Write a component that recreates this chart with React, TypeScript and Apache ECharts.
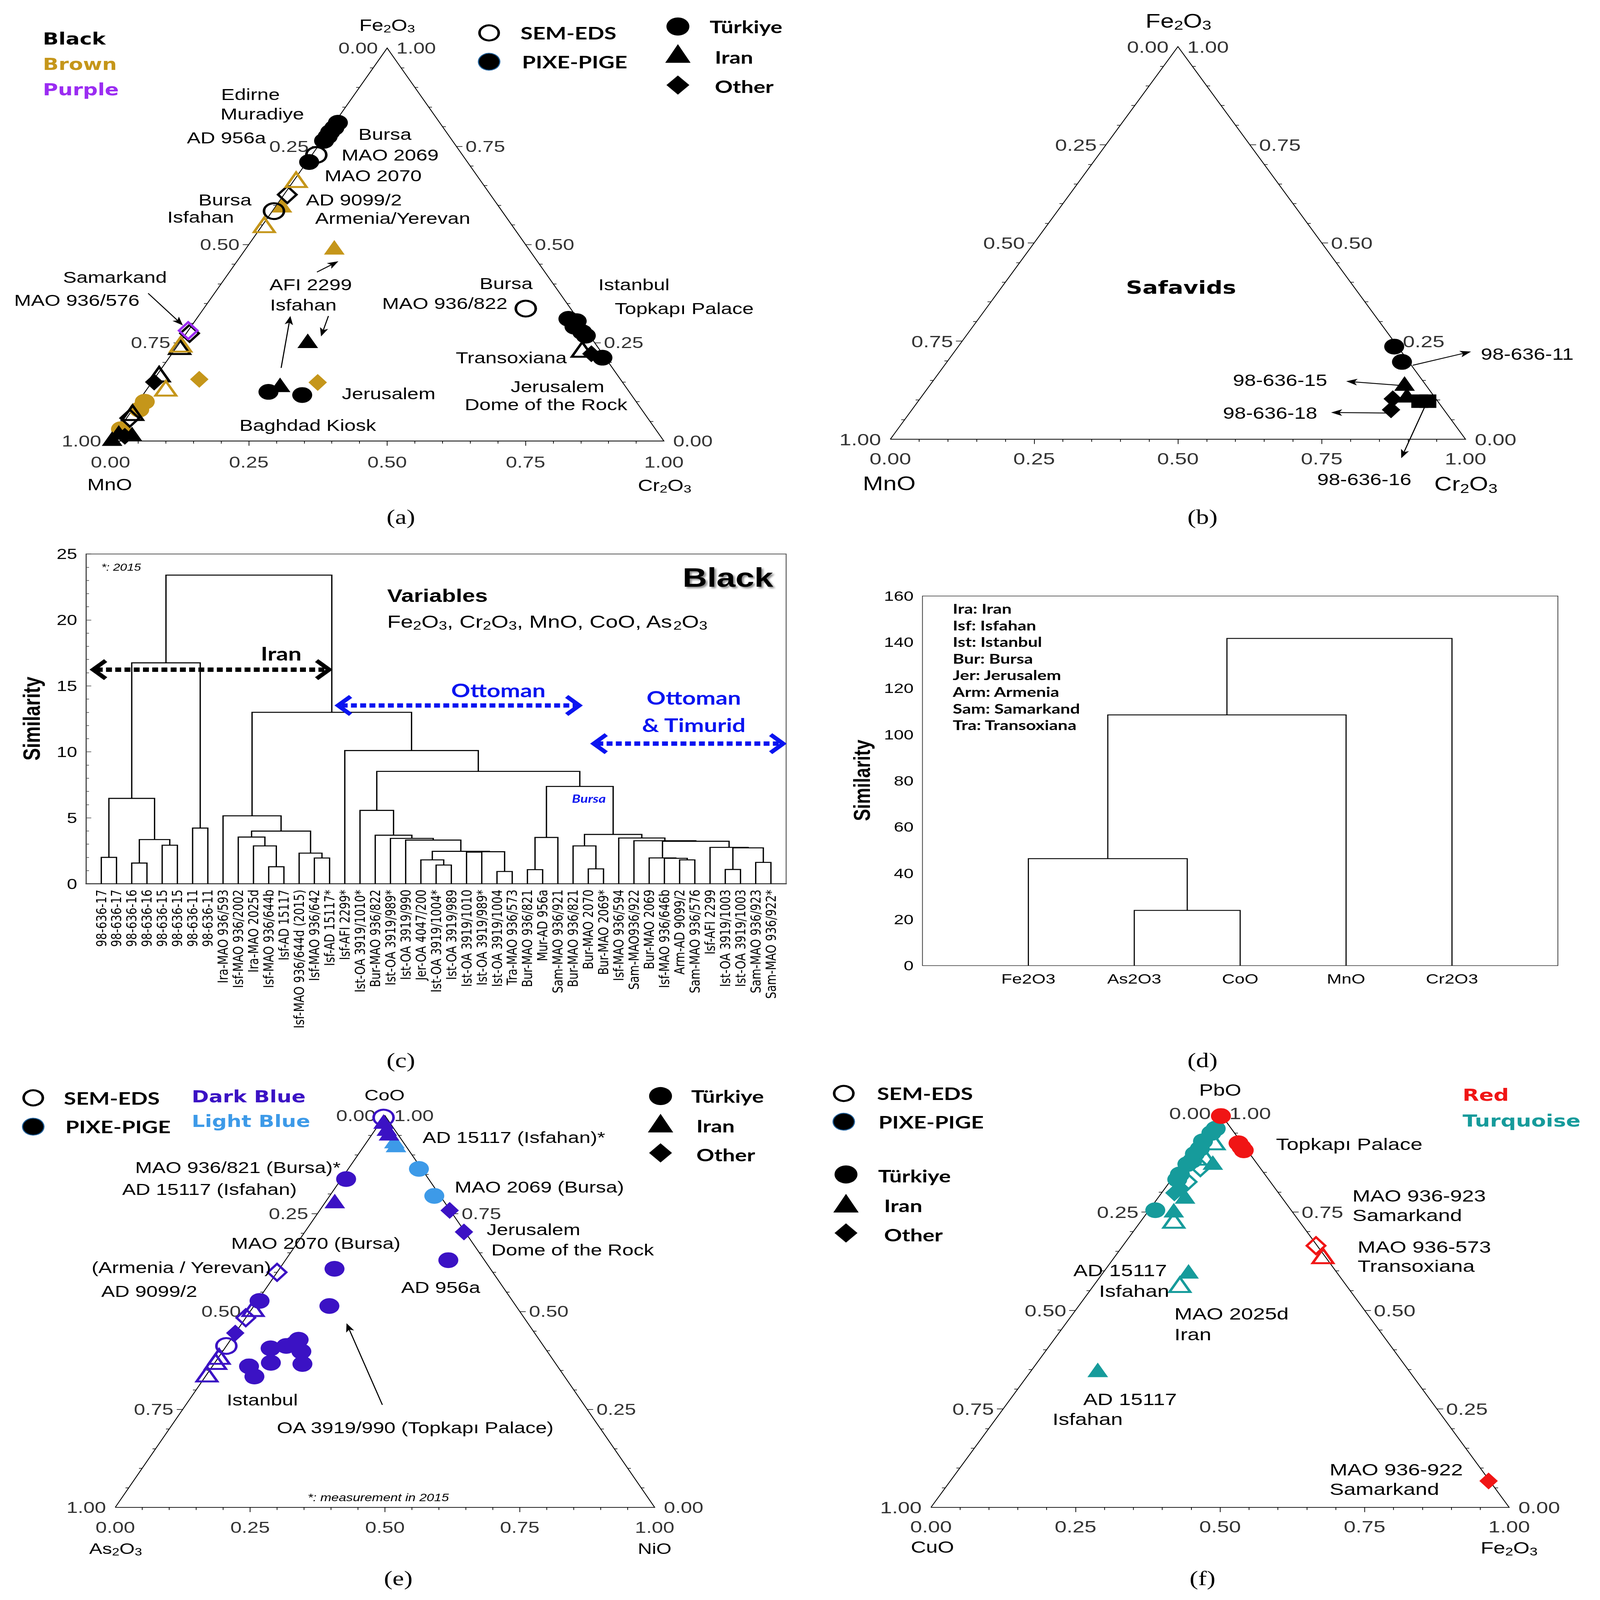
import React, { useEffect, useRef } from "react";
import * as echarts from "echarts";

const PAGE_W = 4331;
const PAGE_H = 5493;

/* ============================ DATA ============================ */

const TERN_TICK_VALUES = [0, 0.25, 0.5, 0.75, 1];

// (a) Black / Brown / Purple — each point = [Cr2O3, Fe2O3] (MnO = remainder)
const A_BLACK_PIXE_CIRCLE = [[0.006, 0.81], [0.006, 0.797], [0.004, 0.786], [0.005, 0.775], [0.004, 0.764], [0.004, 0.71], [0.223, 0.125], [0.288, 0.117], [0.672, 0.311], [0.69, 0.305], [0.693, 0.291], [0.714, 0.277], [0.725, 0.268], [0.783, 0.212]];
const A_BLACK_SEM_CIRCLE = [[0.008, 0.728], [0.003, 0.585], [0.582, 0.337]];
const A_BLACK_PIXE_TRI = [[0.229, 0.255], [0.235, 0.143], [0.004, 0.022], [0.0, 0.006], [0.03, 0.018]];
const A_BLACK_SEM_TRI = [[0.005, 0.24], [0.003, 0.17], [0.004, 0.072], [0.736, 0.233]];
const A_BLACK_PIXE_DIA = [[0.004, 0.15], [0.758, 0.222], [0.02, 0.012]];
const A_BLACK_SEM_DIA = [[0.006, 0.627], [0.006, 0.274], [0.006, 0.058]];
const A_BROWN_PIXE_TRI = [[0.01, 0.6], [0.158, 0.493]];
const A_BROWN_SEM_TRI = [[0.003, 0.665], [0.003, 0.55], [0.004, 0.246], [0.033, 0.134]];
const A_BROWN_PIXE_DIA = [[0.082, 0.157], [0.3, 0.149]];
const A_BROWN_PIXE_CIRCLE = [[0.012, 0.1], [0.012, 0.08], [0.004, 0.03]];
const A_PURPLE_SEM_DIA = [[0.0, 0.281]];

// (b) Safavids — [Cr2O3, Fe2O3]
const B_CIRCLE = [[0.758, 0.236], [0.791, 0.197]];
const B_TRI = [[0.823, 0.142], [0.842, 0.112]];
const B_DIA = [[0.822, 0.103], [0.833, 0.075]];
const B_SQUARE = [[0.872, 0.097], [0.886, 0.097]];

// (c) dendrogram, Black glazes
const LEAVES_C = [
  "98-636-17", "98-636-17", "98-636-16", "98-636-16", "98-636-15", "98-636-15", "98-636-11", "98-636-11",
  "Ira-MAO 936/593", "Isf-MAO 936/2002", "Ira-MAO 2025d", "Isf-MAO 936/644b", "Isf-AD 15117",
  "Isf-MAO 936/644d (2015)", "Isf-MAO 936/642", "Isf-AD 15117*", "Isf-AFI 2299*", "Ist-OA 3919/1010*",
  "Bur-MAO 936/822", "Ist-OA 3919/989*", "Ist-OA 3919/990", "Jer-OA 4047/200", "Ist-OA 3919/1004*",
  "Ist-OA 3919/989", "Ist-OA 3919/1010", "Ist-OA 3919/989*", "Ist-OA 3919/1004", "Tra-MAO 936/573",
  "Bur-MAO 936/821", "Mur-AD 956a", "Sam-MAO 936/921", "Bur-MAO 936/821", "Bur-MAO 2070", "Bur-MAO 2069*",
  "Isf-MAO 936/594", "Sam-MAO936/922", "Bur-MAO 2069", "Isf-MAO 936/646b", "Arm-AD 9099/2",
  "Sam-MAO 936/576", "Isf-AFI 2299", "Ist-OA 3919/1003", "Ist-OA 3919/1003", "Sam-MAO 936/923", "Sam-MAO 936/922*",
];
// [childA, childB, similarity]; ids 0..44 are leaves, 45+k is merge k
const MERGES_C = [
  [0, 1, 2.0], [2, 3, 1.57], [4, 5, 2.92], [46, 47, 3.35], [45, 48, 6.47], [6, 7, 4.22], [49, 50, 16.75],
  [11, 12, 1.29], [10, 52, 2.87], [9, 53, 3.54], [14, 15, 1.95], [13, 55, 2.32], [54, 56, 3.99], [8, 57, 5.15],
  [22, 23, 1.42], [21, 59, 1.81], [24, 25, 2.4], [26, 27, 0.93], [61, 62, 2.43], [60, 63, 2.46], [20, 64, 3.31],
  [19, 65, 3.44], [18, 66, 3.68], [17, 67, 5.56],
  [28, 29, 1.07], [69, 30, 3.51], [32, 33, 1.13], [31, 71, 2.87], [38, 39, 1.81], [37, 73, 1.93], [36, 74, 1.96],
  [41, 42, 1.08], [43, 44, 1.62], [76, 77, 2.72], [40, 78, 2.76], [75, 79, 3.22], [35, 80, 3.26], [34, 81, 3.47],
  [72, 82, 3.74], [70, 83, 7.38],
  [68, 84, 8.52], [16, 85, 10.1], [58, 86, 13.0], [51, 87, 23.4],
];
const Y_AXIS_C = { min: 0, max: 25, step: 5 };

// (d) dendrogram of variables
const VARS_D = ["Fe2O3", "As2O3", "CoO", "MnO", "Cr2O3"];
const MERGES_D = [[1, 2, 23.9], [0, 5, 46.3], [6, 3, 108.5], [7, 4, 141.6]];
const Y_AXIS_D = { min: 0, max: 160, step: 20 };
const ABBREV_D = ["Ira: Iran", "Isf: Isfahan", "Ist: Istanbul", "Bur: Bursa", "Jer: Jerusalem", "Arm: Armenia", "Sam: Samarkand", "Tra: Transoxiana"];

// (e) Dark / Light blue — [NiO, CoO]
const E_DB_SEM_CIRCLE = [[0.0, 0.995], [0.0, 0.412]];
const E_DB_PIXE_TRI = [[0.005, 0.985], [0.02, 0.967], [0.03, 0.955], [0.016, 0.782]];
const E_LB_PIXE_TRI = [[0.05, 0.935], [0.058, 0.925]];
const E_LB_PIXE_CIRCLE = [[0.131, 0.864], [0.194, 0.795]];
const E_DB_PIXE_DIA = [[0.241, 0.758], [0.295, 0.703], [0.0, 0.445]];
const E_DB_PIXE_CIRCLE = [[0.302, 0.631], [0.009, 0.838], [0.102, 0.609], [0.14, 0.514], [0.004, 0.527], [0.126, 0.428], [0.085, 0.406], [0.111, 0.412], [0.146, 0.398], [0.104, 0.369], [0.164, 0.366], [0.068, 0.36], [0.091, 0.334], [0.123, 0.417]];
const E_DB_SEM_DIA = [[0.0, 0.6], [0.0, 0.484]];
const E_DB_SEM_TRI = [[0.002, 0.507], [0.0, 0.385], [0.0, 0.372], [0.0, 0.34]];

// (f) Red / Turquoise — [Fe2O3, PbO]
const F_RED_PIXE_CIRCLE = [[0.005, 0.993], [0.07, 0.924], [0.08, 0.914], [0.088, 0.906]];
const F_RED_SEM_DIA = [[0.334, 0.664]];
const F_RED_SEM_TRI = [[0.359, 0.638]];
const F_RED_PIXE_DIA = [[0.931, 0.067]];
const F_TEAL_PIXE_CIRCLE = [[0.012, 0.961], [0.01, 0.95], [0.006, 0.929], [0.01, 0.91], [0.008, 0.897], [0.012, 0.88], [0.008, 0.871], [0.008, 0.845], [0.01, 0.832], [0.011, 0.754]];
const F_TEAL_SEM_TRI = [[0.026, 0.927], [0.03, 0.888], [0.056, 0.728], [0.148, 0.565]];
const F_TEAL_PIXE_TRI = [[0.05, 0.875], [0.045, 0.789], [0.043, 0.754], [0.146, 0.599], [0.114, 0.349]];
const F_TEAL_SEM_DIA = [[0.035, 0.862], [0.03, 0.826]];
const F_TEAL_PIXE_DIA = [[0.026, 0.81], [0.022, 0.798]];

/* ============================ STYLE ============================ */

const FONT = "'Liberation Sans', Arial, Helvetica, sans-serif";
const LATO = "Lato, 'Liberation Sans', sans-serif";
const DEJAVU = "'DejaVu Sans', sans-serif";
const SERIF = "'Liberation Serif', 'Times New Roman', serif";

const COL = {
  black: "#000000",
  brown: "#c5961a",
  purple: "#9b2cf2",
  dblue: "#3b12c4",
  lblue: "#3d9ae8",
  red: "#f01515",
  teal: "#169b9b",
  blue: "#0a14f0",
};

const SZ: any = { circle: 54, triangle: [56, 50], diamond: [50, 58], rect: 46 };

/* ============================ HELPERS ============================ */

function marks(g: number, data: number[][], symbol: string, color: string, filled: boolean) {
  return {
    type: "scatter",
    xAxisIndex: g,
    yAxisIndex: g,
    clip: false,
    silent: true,
    symbol,
    symbolSize: SZ[symbol],
    data: data.map(([r, t]) => [r + t / 2, t]),
    itemStyle: filled
      ? { color, opacity: 1 }
      : { color: "rgba(255,255,255,0)", borderColor: color, borderWidth: 7, opacity: 1 },
    z: filled ? 6 : 7,
  };
}

function ternSeries(g: number, tickFont: number, dist: number, bottomDist: number) {
  const ticks: any[] = [];
  for (let k = 1; k < 20; k++) {
    const v = k / 20;
    const L = k % 5 === 0 ? 0.011 : 0.006;
    ticks.push({ coords: [[v, 0], [v, -L * 1.1]] });
    ticks.push({ coords: [[v / 2, v], [v / 2 - L, v]] });
    ticks.push({ coords: [[1 - v / 2, v], [1 - v / 2 + L, v]] });
  }
  const lab = (data: any[], position: string, distance: number) => ({
    type: "scatter",
    xAxisIndex: g,
    yAxisIndex: g,
    data,
    symbolSize: 2,
    clip: false,
    silent: true,
    itemStyle: { color: "rgba(0,0,0,0)" },
    label: { show: true, position, distance, formatter: "{b}", fontSize: tickFont, fontFamily: FONT, color: "#000" },
    z: 4,
  });
  const fmt = (v: number) => v.toFixed(2);
  return [
    {
      type: "lines", coordinateSystem: "cartesian2d", xAxisIndex: g, yAxisIndex: g, polyline: true,
      clip: false, silent: true, data: [{ coords: [[0, 0], [1, 0], [0.5, 1], [0, 0]] }],
      lineStyle: { color: "#000", width: 2.5, opacity: 1 }, z: 2,
    },
    {
      type: "lines", coordinateSystem: "cartesian2d", xAxisIndex: g, yAxisIndex: g,
      clip: false, silent: true, data: ticks, lineStyle: { color: "#000", width: 2, opacity: 1 }, z: 2,
    },
    lab(TERN_TICK_VALUES.map((v) => ({ name: fmt(v), value: [(1 - v) / 2, 1 - v] })), "left", dist),
    lab(TERN_TICK_VALUES.map((v) => ({ name: fmt(v), value: [1 - v / 2, v] })), "right", dist),
    lab(TERN_TICK_VALUES.map((v) => ({ name: fmt(v), value: [v, 0] })), "bottom", bottomDist),
  ];
}

function dendroLines(nLeaves: number, merges: number[][]) {
  const pos: number[] = [];
  const hgt: number[] = [];
  for (let i = 0; i < nLeaves; i++) {
    pos.push(i + 1);
    hgt.push(0);
  }
  return merges.map(([a, b, h]) => {
    const seg = { coords: [[pos[a], hgt[a]], [pos[a], h], [pos[b], h], [pos[b], hgt[b]]] };
    pos.push((pos[a] + pos[b]) / 2);
    hgt.push(h);
    return seg;
  });
}

function T(text: string, x: number, y: number, size: number, o: any = {}) {
  const style: any = {
    text,
    fontSize: size,
    fontFamily: o.family || FONT,
    fontWeight: o.weight || "normal",
    fontStyle: o.italic ? "italic" : "normal",
    fill: o.color || "#000",
    align: o.align || "center",
    verticalAlign: "middle",
  };
  if (o.shadow) {
    style.textShadowColor = "rgba(0,0,0,0.45)";
    style.textShadowBlur = 6;
    style.textShadowOffsetX = 5;
    style.textShadowOffsetY = 5;
  }
  return { type: "text", x, y, rotation: o.rot || 0, silent: true, z: 20, style };
}

function chem(label: string, x: number, y: number, size: number, align = "center") {
  const parts = label.split(/(\d)/);
  const text = parts.map((p, i) => (i % 2 ? `{s|${p}}` : p ? `{n|${p}}` : "")).join("");
  return {
    type: "text", x, y, silent: true, z: 20,
    style: {
      text, align, verticalAlign: "middle",
      rich: {
        n: { fontSize: size, fontFamily: FONT, fill: "#000" },
        s: { fontSize: Math.round(size * 0.68), fontFamily: FONT, fill: "#000", padding: [Math.round(size * 0.42), 0, 0, 0] },
      },
    },
  };
}

function ARROW(x1: number, y1: number, x2: number, y2: number, color = "#000", w = 3, head = 30) {
  const a = Math.atan2(y2 - y1, x2 - x1);
  const c = Math.cos(a);
  const s = Math.sin(a);
  const bx = x2 - head * c;
  const by = y2 - head * s;
  const hw = head * 0.38;
  return [
    { type: "line", silent: true, z: 20, shape: { x1, y1, x2: bx + head * 0.3 * c, y2: by + head * 0.3 * s }, style: { stroke: color, lineWidth: w } },
    {
      type: "polygon", silent: true, z: 20,
      shape: { points: [[x2, y2], [bx - s * hw, by + c * hw], [bx + head * 0.25 * c, by + head * 0.25 * s], [bx + s * hw, by - c * hw]] },
      style: { fill: color },
    },
  ];
}

function DOTARROW(x1: number, x2: number, y: number, color: string) {
  const hw = 31;
  const hl = 40;
  return [
    { type: "line", silent: true, z: 20, shape: { x1: x1 + 16, y1: y, x2: x2 - 16, y2: y }, style: { stroke: color, lineWidth: 15, lineDash: [16, 9] } },
    { type: "polyline", silent: true, z: 20, shape: { points: [[x1 + hl, y - hw], [x1 + 6, y], [x1 + hl, y + hw]] }, style: { stroke: color, lineWidth: 13, fill: "none" } },
    { type: "polyline", silent: true, z: 20, shape: { points: [[x2 - hl, y - hw], [x2 - 6, y], [x2 - hl, y + hw]] }, style: { stroke: color, lineWidth: 13, fill: "none" } },
  ];
}

function gCircle(cx: number, cy: number, r: number, fill: string, stroke?: string, lw = 0) {
  const style: any = { fill };
  if (stroke) {
    style.stroke = stroke;
    style.lineWidth = lw;
  }
  return { type: "circle", silent: true, z: 20, shape: { cx, cy, r }, style };
}
function gTri(cx: number, cy: number, s: number, fill: string) {
  return { type: "polygon", silent: true, z: 20, shape: { points: [[cx, cy - s * 0.52], [cx + s * 0.52, cy + s * 0.45], [cx - s * 0.52, cy + s * 0.45]] }, style: { fill } };
}
function gDia(cx: number, cy: number, s: number, fill: string) {
  return { type: "polygon", silent: true, z: 20, shape: { points: [[cx, cy - s / 2], [cx + s * 0.47, cy], [cx, cy + s / 2], [cx - s * 0.47, cy]] }, style: { fill } };
}

function shapeLegend(cx: number, textX: number, ys: number[], textYs: number[], size: number) {
  return [
    gCircle(cx, ys[0], size * 0.47, "#000"),
    gTri(cx, ys[1], size, "#000"),
    gDia(cx, ys[2], size, "#000"),
    T("Türkiye", textX, textYs[0], 60, { family: LATO, weight: "bold", align: "left" }),
    T("Iran", textX + 14, textYs[1], 60, { family: LATO, weight: "bold", align: "left" }),
    T("Other", textX + 14, textYs[2], 60, { family: LATO, weight: "bold", align: "left" }),
  ];
}

function methodLegend(cx: number, textX: number, y1: number, y2: number) {
  return [
    gCircle(cx, y1, 26, "#fff", "#000", 7),
    gCircle(cx, y2, 29, "#000", "#1f5f99", 3),
    T("SEM-EDS", textX, y1, 60, { family: LATO, weight: "bold", align: "left" }),
    T("PIXE-PIGE", textX + 4, y2, 60, { family: LATO, weight: "bold", align: "left" }),
  ];
}

/* ============================ OPTION ============================ */

function buildOption() {
  const grids = [
    { left: 299, top: 165, width: 1498, height: 1349 }, // a
    { left: 2410, top: 160, width: 1557, height: 1348 }, // b
    { left: 233, top: 1902, width: 1895, height: 1132, show: true, borderColor: "#555", borderWidth: 2.5 }, // c
    { left: 2497, top: 2046, width: 1720, height: 1269, show: true, borderColor: "#333", borderWidth: 2 }, // d
    { left: 312, top: 3830, width: 1460, height: 1345 }, // e
    { left: 2520, top: 3822, width: 1565, height: 1353 }, // f
  ];

  const hiddenX = (g: number) => ({ gridIndex: g, type: "value", min: 0, max: 1, show: false });
  const hiddenY = (g: number) => ({ gridIndex: g, type: "value", min: 0, max: 1, show: false });

  const xAxis: any[] = [
    hiddenX(0),
    hiddenX(1),
    {
      gridIndex: 2, type: "value", min: 0, max: LEAVES_C.length + 1, interval: 1,
      axisLine: { show: true, lineStyle: { color: "#444", width: 4 } },
      axisTick: { show: false }, splitLine: { show: false },
      axisLabel: {
        rotate: 90, margin: 20, fontSize: 38, fontFamily: DEJAVU, color: "#000",
        showMinLabel: true, showMaxLabel: true,
        formatter: (v: number) => LEAVES_C[Math.round(v) - 1] || "",
      },
    },
    {
      gridIndex: 3, type: "value", min: 0, max: VARS_D.length + 1, interval: 1,
      axisLine: { show: false }, axisTick: { show: false }, splitLine: { show: false },
      axisLabel: { margin: 22, fontSize: 48, fontFamily: FONT, color: "#000", formatter: (v: number) => VARS_D[Math.round(v) - 1] || "" },
    },
    hiddenX(4),
    hiddenX(5),
  ];
  const yAxis: any[] = [
    hiddenY(0),
    hiddenY(1),
    {
      gridIndex: 2, type: "value", min: Y_AXIS_C.min, max: Y_AXIS_C.max, interval: Y_AXIS_C.step,
      axisLine: { show: true, lineStyle: { color: "#444", width: 2.5 } },
      axisTick: { show: true, inside: true, length: 14, lineStyle: { color: "#444", width: 2 } },
      minorTick: { show: true, splitNumber: 5, length: 8, lineStyle: { color: "#444", width: 2 } },
      splitLine: { show: false },
      axisLabel: { fontSize: 50, margin: 24, color: "#000", fontFamily: FONT },
    },
    {
      gridIndex: 3, type: "value", min: Y_AXIS_D.min, max: Y_AXIS_D.max, interval: Y_AXIS_D.step,
      axisLine: { show: false }, axisTick: { show: false }, splitLine: { show: false },
      axisLabel: { fontSize: 48, margin: 24, color: "#000", fontFamily: FONT },
    },
    hiddenY(4),
    hiddenY(5),
  ];

  const series: any[] = [];
  // (a)
  series.push(...ternSeries(0, 55, 24, 44));
  series.push(
    marks(0, A_BROWN_PIXE_CIRCLE, "circle", COL.brown, true),
    marks(0, A_BLACK_PIXE_CIRCLE, "circle", COL.black, true),
    marks(0, A_BLACK_PIXE_TRI, "triangle", COL.black, true),
    marks(0, A_BLACK_PIXE_DIA, "diamond", COL.black, true),
    marks(0, A_BROWN_PIXE_TRI, "triangle", COL.brown, true),
    marks(0, A_BROWN_PIXE_DIA, "diamond", COL.brown, true),
    marks(0, A_BLACK_SEM_CIRCLE, "circle", COL.black, false),
    marks(0, A_BLACK_SEM_TRI, "triangle", COL.black, false),
    marks(0, A_BLACK_SEM_DIA, "diamond", COL.black, false),
    marks(0, A_BROWN_SEM_TRI, "triangle", COL.brown, false),
    marks(0, A_PURPLE_SEM_DIA, "diamond", COL.purple, false),
  );
  // (b)
  series.push(...ternSeries(1, 58, 24, 36));
  series.push(
    marks(1, B_CIRCLE, "circle", COL.black, true),
    marks(1, B_TRI, "triangle", COL.black, true),
    marks(1, B_DIA, "diamond", COL.black, true),
    marks(1, B_SQUARE, "rect", COL.black, true),
  );
  // (c)
  series.push({
    type: "lines", coordinateSystem: "cartesian2d", xAxisIndex: 2, yAxisIndex: 2, polyline: true,
    clip: false, silent: true, data: dendroLines(LEAVES_C.length, MERGES_C),
    lineStyle: { color: "#000", width: 3.5, opacity: 1 }, z: 4,
  });
  // (d)
  series.push({
    type: "lines", coordinateSystem: "cartesian2d", xAxisIndex: 3, yAxisIndex: 3, polyline: true,
    clip: false, silent: true, data: dendroLines(VARS_D.length, MERGES_D),
    lineStyle: { color: "#000", width: 3, opacity: 1 }, z: 4,
  });
  // (e)
  series.push(...ternSeries(4, 55, 24, 40));
  series.push(
    marks(4, E_LB_PIXE_CIRCLE, "circle", COL.lblue, true),
    marks(4, E_LB_PIXE_TRI, "triangle", COL.lblue, true),
    marks(4, E_DB_PIXE_CIRCLE, "circle", COL.dblue, true),
    marks(4, E_DB_PIXE_TRI, "triangle", COL.dblue, true),
    marks(4, E_DB_PIXE_DIA, "diamond", COL.dblue, true),
    marks(4, E_DB_SEM_CIRCLE, "circle", COL.dblue, false),
    marks(4, E_DB_SEM_DIA, "diamond", COL.dblue, false),
    marks(4, E_DB_SEM_TRI, "triangle", COL.dblue, false),
  );
  // (f)
  series.push(...ternSeries(5, 58, 24, 36));
  series.push(
    marks(5, F_TEAL_PIXE_CIRCLE, "circle", COL.teal, true),
    marks(5, F_TEAL_PIXE_TRI, "triangle", COL.teal, true),
    marks(5, F_TEAL_PIXE_DIA, "diamond", COL.teal, true),
    marks(5, F_TEAL_SEM_TRI, "triangle", COL.teal, false),
    marks(5, F_TEAL_SEM_DIA, "diamond", COL.teal, false),
    marks(5, F_RED_PIXE_CIRCLE, "circle", COL.red, true),
    marks(5, F_RED_PIXE_DIA, "diamond", COL.red, true),
    marks(5, F_RED_SEM_DIA, "diamond", COL.red, false),
    marks(5, F_RED_SEM_TRI, "triangle", COL.red, false),
  );

  const G: any[] = [];

  /* ---- (a) ---- */
  G.push(chem("Fe2O3", 1048, 87, 56), chem("MnO", 297, 1663, 56), chem("Cr2O3", 1799, 1666, 56));
  G.push(
    T("Black", 116, 133, 56, { family: DEJAVU, weight: "bold", align: "left" }),
    T("Brown", 116, 221, 56, { family: DEJAVU, weight: "bold", align: "left", color: COL.brown }),
    T("Purple", 116, 308, 56, { family: DEJAVU, weight: "bold", align: "left", color: COL.purple }),
  );
  G.push(...methodLegend(1324, 1409, 113, 212));
  G.push(...shapeLegend(1835, 1921, [91, 186, 292], [91, 196, 296], 66));
  const aTexts: [string, number, number][] = [
    ["Edirne", 678, 325], ["Muradiye", 710, 392], ["AD 956a", 613, 474], ["Bursa", 1042, 461],
    ["MAO 2069", 1056, 532], ["MAO 2070", 1010, 604], ["Bursa", 609, 687], ["Isfahan", 543, 745],
    ["AD 9099/2", 958, 686], ["Armenia/Yerevan", 1063, 750], ["Samarkand", 311, 952], ["MAO 936/576", 208, 1031],
    ["AFI 2299", 841, 978], ["Isfahan", 821, 1047], ["Bursa", 1370, 973], ["MAO 936/822", 1204, 1042],
    ["Istanbul", 1716, 978], ["Topkapı Palace", 1852, 1059], ["Transoxiana", 1384, 1228], ["Jerusalem", 1052, 1352],
    ["Jerusalem", 1509, 1327], ["Dome of the Rock", 1478, 1389], ["Baghdad Kiosk", 833, 1460],
  ];
  aTexts.forEach(([s, x, y]) => G.push(T(s, x, y, 55)));
  G.push(...ARROW(401, 1007, 495, 1117), ...ARROW(858, 934, 916, 897), ...ARROW(761, 1263, 786, 1085), ...ARROW(889, 1085, 869, 1155));
  G.push(T("(a)", 1085, 1775, 70, { family: SERIF }));

  /* ---- (b) ---- */
  G.push(chem("Fe2O3", 3190, 72, 66), chem("MnO", 2407, 1660, 66), chem("Cr2O3", 3968, 1662, 66));
  G.push(T("Safavids", 3197, 987, 62, { family: DEJAVU, weight: "bold" }));
  G.push(
    T("98-636-11", 4134, 1216, 56), T("98-636-15", 3465, 1306, 56),
    T("98-636-18", 3438, 1418, 56), T("98-636-16", 3693, 1646, 56),
  );
  G.push(...ARROW(3824, 1254, 3982, 1207), ...ARROW(3789, 1323, 3644, 1309), ...ARROW(3755, 1418, 3603, 1416), ...ARROW(3858, 1393, 3793, 1573));
  G.push(T("(b)", 3255, 1775, 70, { family: SERIF }));

  /* ---- (c) ---- */
  G.push(T("*: 2015", 274, 1947, 34, { italic: true, align: "left" }));
  G.push(T("Black", 2093, 1982, 92, { weight: "bold", align: "right", shadow: true }));
  G.push(T("Variables", 1048, 2045, 62, { weight: "bold", align: "left" }));
  G.push(chem("Fe2O3, Cr2O3, MnO, CoO, As2O3", 1048, 2134, 60, "left"));
  G.push(T("Iran", 761, 2243, 64, { family: LATO, weight: "bold" }));
  G.push(...DOTARROW(246, 897, 2299, "#000"));
  G.push(T("Ottoman", 1349, 2369, 64, { family: LATO, weight: "bold", color: COL.blue }));
  G.push(...DOTARROW(909, 1574, 2422, COL.blue));
  G.push(T("Ottoman", 1878, 2394, 64, { family: LATO, weight: "bold", color: COL.blue }));
  G.push(T("& Timurid", 1878, 2488, 64, { family: LATO, weight: "bold", color: COL.blue }));
  G.push(...DOTARROW(1601, 2126, 2553, COL.blue));
  G.push(T("Bursa", 1594, 2741, 38, { family: LATO, weight: "bold", italic: true, color: COL.blue }));
  G.push(T("Similarity", 86, 2467, 64, { weight: "bold", rot: Math.PI / 2 }));
  G.push(T("(c)", 1085, 3640, 70, { family: SERIF }));

  /* ---- (d) ---- */
  ABBREV_D.forEach((s, i) => G.push(T(s, 2579, 2089 + i * 57.2, 47, { family: LATO, weight: "bold", align: "left" })));
  G.push(T("Similarity", 2333, 2679, 62, { weight: "bold", rot: Math.PI / 2 }));
  G.push(T("(d)", 3255, 3640, 70, { family: SERIF }));

  /* ---- (e) ---- */
  G.push(chem("CoO", 1041, 3759, 53), chem("As2O3", 313, 5316, 53), chem("NiO", 1772, 5316, 53));
  G.push(...methodLegend(90, 173, 3769, 3868));
  G.push(
    T("Dark Blue", 519, 3765, 56, { family: DEJAVU, weight: "bold", align: "left", color: COL.dblue }),
    T("Light Blue", 519, 3849, 56, { family: DEJAVU, weight: "bold", align: "left", color: COL.lblue }),
  );
  G.push(...shapeLegend(1788, 1871, [3763, 3858, 3958], [3763, 3865, 3964], 66));
  const eTexts: [string, number, number][] = [
    ["AD 15117 (Isfahan)*", 1391, 3905], ["MAO 936/821 (Bursa)*", 644, 4008], ["AD 15117 (Isfahan)", 567, 4083],
    ["MAO 2069 (Bursa)", 1460, 4075], ["Jerusalem", 1444, 4221], ["Dome of the Rock", 1550, 4291],
    ["MAO 2070 (Bursa)", 855, 4268], ["(Armenia / Yerevan)", 491, 4352], ["AD 9099/2", 404, 4434],
    ["AD 956a", 1193, 4420], ["Istanbul", 710, 4806], ["OA 3919/990 (Topkapı Palace)", 1124, 4901],
  ];
  eTexts.forEach(([s, x, y]) => G.push(T(s, x, y, 55)));
  G.push(T("*: measurement in 2015", 1024, 5141, 36, { italic: true }));
  G.push(...ARROW(1035, 4823, 938, 4543));
  G.push(T("(e)", 1078, 5418, 70, { family: SERIF }));

  /* ---- (f) ---- */
  G.push(chem("PbO", 3303, 3742, 57), chem("CuO", 2524, 5311, 57), chem("Fe2O3", 4085, 5314, 57));
  G.push(...methodLegend(2284, 2374, 3754, 3851));
  G.push(
    gCircle(2290, 4032, 31, "#000"), gTri(2290, 4133, 66, "#000"), gDia(2290, 4233, 66, "#000"),
    T("Türkiye", 2377, 4036, 60, { family: LATO, weight: "bold", align: "left" }),
    T("Iran", 2393, 4139, 60, { family: LATO, weight: "bold", align: "left" }),
    T("Other", 2393, 4239, 60, { family: LATO, weight: "bold", align: "left" }),
  );
  G.push(
    T("Red", 3959, 3759, 58, { family: DEJAVU, weight: "bold", align: "left", color: COL.red }),
    T("Turquoise", 3959, 3847, 58, { family: DEJAVU, weight: "bold", align: "left", color: COL.teal }),
  );
  const fTexts: [string, number, number, string][] = [
    ["Topkapı Palace", 3454, 3927, "left"],
    ["MAO 936-923", 3661, 4104, "left"], ["Samarkand", 3661, 4171, "left"],
    ["MAO 936-573", 3675, 4280, "left"], ["Transoxiana", 3675, 4346, "left"],
    ["AD 15117", 3159, 4361, "right"], ["Isfahan", 3165, 4432, "right"],
    ["MAO 2025d", 3179, 4510, "left"], ["Iran", 3179, 4580, "left"],
    ["AD 15117", 2932, 4803, "left"], ["Isfahan", 2849, 4872, "left"],
    ["MAO 936-922", 3599, 5045, "left"], ["Samarkand", 3599, 5112, "left"],
  ];
  fTexts.forEach(([s, x, y, a]) => G.push(T(s, x, y, 58, { align: a })));
  G.push(T("(f)", 3255, 5418, 70, { family: SERIF }));

  return {
    animation: false,
    backgroundColor: "#ffffff",
    grid: grids,
    xAxis,
    yAxis,
    series,
    graphic: { elements: G },
  };
}

/* ============================ COMPONENT ============================ */

export default function App() {
  const ref = useRef<HTMLDivElement | null>(null);
  // the figure is laid out on a 4331×5493 canvas and fitted to the actual viewport
  const vw = typeof window !== "undefined" && window.innerWidth ? window.innerWidth : PAGE_W;
  const vh = typeof window !== "undefined" && window.innerHeight ? window.innerHeight : PAGE_H;
  const sx = vw / PAGE_W;
  const sy = vh / PAGE_H;
  useEffect(() => {
    const prevM = document.body.style.margin;
    const prevO = document.body.style.overflow;
    document.body.style.margin = "0";
    document.body.style.overflow = "hidden";
    const el = ref.current;
    if (!el) return;
    const chart = echarts.init(el, null, { renderer: "svg", width: PAGE_W, height: PAGE_H });
    chart.setOption(buildOption() as any);
    return () => {
      chart.dispose();
      document.body.style.margin = prevM;
      document.body.style.overflow = prevO;
    };
  }, []);
  return (
    <div style={{ width: vw, height: vh, overflow: "hidden", background: "#fff", position: "relative" }}>
      <div
        ref={ref}
        style={{
          width: PAGE_W,
          height: PAGE_H,
          transform: `scale(${sx}, ${sy})`,
          transformOrigin: "0 0",
          position: "absolute",
          left: 0,
          top: 0,
        }}
      />
    </div>
  );
}
